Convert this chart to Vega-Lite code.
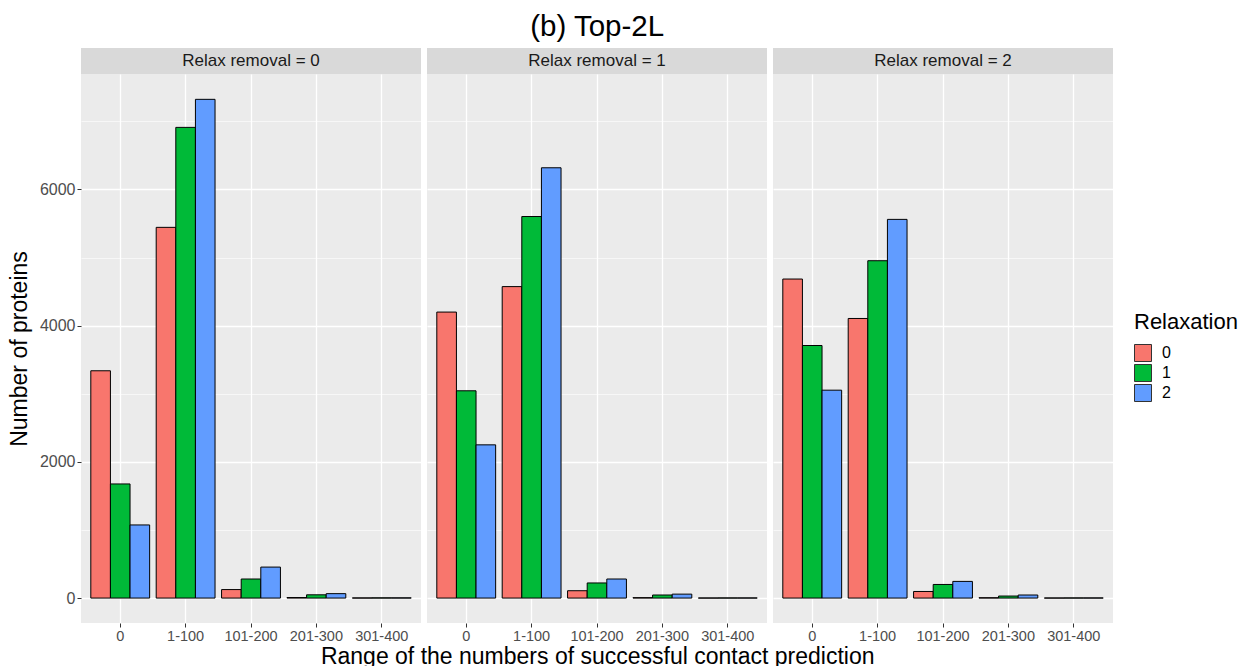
{
  "$schema": "https://vega.github.io/schema/vega-lite/v6.json",
  "padding": {"left": 8, "top": 11, "right": 0, "bottom": 0},
  "background": "white",
  "title": {"text": "(b) Top-2L", "fontSize": 29.5, "fontWeight": "normal", "color": "black", "anchor": "middle", "dx": -26, "offset": 6},
  "datasets": {
    "bars": [
      {"removal": 0, "range": "0", "relaxation": "0", "count": 3338},
      {"removal": 0, "range": "0", "relaxation": "1", "count": 1676},
      {"removal": 0, "range": "0", "relaxation": "2", "count": 1074},
      {"removal": 0, "range": "1-100", "relaxation": "0", "count": 5444},
      {"removal": 0, "range": "1-100", "relaxation": "1", "count": 6912},
      {"removal": 0, "range": "1-100", "relaxation": "2", "count": 7324},
      {"removal": 0, "range": "101-200", "relaxation": "0", "count": 125},
      {"removal": 0, "range": "101-200", "relaxation": "1", "count": 280},
      {"removal": 0, "range": "101-200", "relaxation": "2", "count": 455},
      {"removal": 0, "range": "201-300", "relaxation": "0", "count": 8},
      {"removal": 0, "range": "201-300", "relaxation": "1", "count": 48},
      {"removal": 0, "range": "201-300", "relaxation": "2", "count": 65},
      {"removal": 0, "range": "301-400", "relaxation": "0", "count": 2},
      {"removal": 0, "range": "301-400", "relaxation": "1", "count": 3},
      {"removal": 0, "range": "301-400", "relaxation": "2", "count": 3},
      {"removal": 1, "range": "0", "relaxation": "0", "count": 4200},
      {"removal": 1, "range": "0", "relaxation": "1", "count": 3044},
      {"removal": 1, "range": "0", "relaxation": "2", "count": 2250},
      {"removal": 1, "range": "1-100", "relaxation": "0", "count": 4574},
      {"removal": 1, "range": "1-100", "relaxation": "1", "count": 5603},
      {"removal": 1, "range": "1-100", "relaxation": "2", "count": 6319},
      {"removal": 1, "range": "101-200", "relaxation": "0", "count": 108},
      {"removal": 1, "range": "101-200", "relaxation": "1", "count": 222},
      {"removal": 1, "range": "101-200", "relaxation": "2", "count": 280},
      {"removal": 1, "range": "201-300", "relaxation": "0", "count": 6},
      {"removal": 1, "range": "201-300", "relaxation": "1", "count": 45},
      {"removal": 1, "range": "201-300", "relaxation": "2", "count": 58},
      {"removal": 1, "range": "301-400", "relaxation": "0", "count": 1},
      {"removal": 1, "range": "301-400", "relaxation": "1", "count": 2},
      {"removal": 1, "range": "301-400", "relaxation": "2", "count": 2},
      {"removal": 2, "range": "0", "relaxation": "0", "count": 4685},
      {"removal": 2, "range": "0", "relaxation": "1", "count": 3709},
      {"removal": 2, "range": "0", "relaxation": "2", "count": 3053},
      {"removal": 2, "range": "1-100", "relaxation": "0", "count": 4106},
      {"removal": 2, "range": "1-100", "relaxation": "1", "count": 4954},
      {"removal": 2, "range": "1-100", "relaxation": "2", "count": 5561},
      {"removal": 2, "range": "101-200", "relaxation": "0", "count": 97},
      {"removal": 2, "range": "101-200", "relaxation": "1", "count": 200},
      {"removal": 2, "range": "101-200", "relaxation": "2", "count": 245},
      {"removal": 2, "range": "201-300", "relaxation": "0", "count": 5},
      {"removal": 2, "range": "201-300", "relaxation": "1", "count": 30},
      {"removal": 2, "range": "201-300", "relaxation": "2", "count": 45},
      {"removal": 2, "range": "301-400", "relaxation": "0", "count": 1},
      {"removal": 2, "range": "301-400", "relaxation": "1", "count": 2},
      {"removal": 2, "range": "301-400", "relaxation": "2", "count": 2}
    ]
  },
  "vconcat": [
    {
      "title": {"text": "Range of the numbers of successful contact prediction", "orient": "bottom", "anchor": "middle", "dx": 37, "fontSize": 23, "fontWeight": "normal", "color": "black", "offset": 3},
      "spacing": 6,
      "hconcat": [
        {
          "spacing": 0,
          "vconcat": [
            {
              "width": 340, "height": 26,
              "data": {"values": [{"label": "Relax removal = 0"}]},
              "mark": {"type": "text", "fontSize": 17, "color": "#1A1A1A", "baseline": "middle"},
              "encoding": {"text": {"field": "label", "type": "nominal"}},
              "view": {"fill": "#D9D9D9", "stroke": null}
            },
            {
              "width": 340, "height": 549,
              "data": {"name": "bars"},
              "transform": [{"filter": "datum.removal == 0"}],
              "mark": {"type": "bar", "stroke": "black", "strokeWidth": 1},
              "encoding": {
                "x": {"field": "range", "type": "nominal", "sort": ["0", "1-100", "101-200", "201-300", "301-400"],
                      "scale": {"paddingInner": 0.1, "paddingOuter": 0.15},
                      "axis": {"title": null, "labelAngle": 0, "grid": true, "bandPosition": 0.5}},
                "xOffset": {"field": "relaxation", "type": "nominal", "scale": {"paddingInner": 0, "paddingOuter": 0}},
                "y": {"field": "count", "type": "quantitative", "scale": {"domain": [-366, 7696], "nice": false, "zero": false},
                      "axis": {"title": "Number of proteins", "values": [0, 1000, 2000, 3000, 4000, 5000, 6000, 7000], "format": "d",
                               "labelExpr": "datum.value % 2000 === 0 ? datum.label : ''",
                               "gridWidth": {"condition": {"test": "datum.value % 2000 === 0", "value": 1.3}, "value": 0.6},
                               "tickOpacity": {"condition": {"test": "datum.value % 2000 === 0", "value": 1}, "value": 0}}},
                "y2": {"datum": 0},
                "color": {"field": "relaxation", "type": "nominal", "scale": {"domain": ["0", "1", "2"], "range": ["#F8766D", "#00BA38", "#619CFF"]}, "legend": {"title": "Relaxation"}}
              },
              "view": {"fill": "#EBEBEB", "stroke": null}
            }
          ]
        },
        {
          "spacing": 0,
          "vconcat": [
            {
              "width": 340, "height": 26,
              "data": {"values": [{"label": "Relax removal = 1"}]},
              "mark": {"type": "text", "fontSize": 17, "color": "#1A1A1A", "baseline": "middle"},
              "encoding": {"text": {"field": "label", "type": "nominal"}},
              "view": {"fill": "#D9D9D9", "stroke": null}
            },
            {
              "width": 340, "height": 549,
              "data": {"name": "bars"},
              "transform": [{"filter": "datum.removal == 1"}],
              "mark": {"type": "bar", "stroke": "black", "strokeWidth": 1},
              "encoding": {
                "x": {"field": "range", "type": "nominal", "sort": ["0", "1-100", "101-200", "201-300", "301-400"],
                      "scale": {"paddingInner": 0.1, "paddingOuter": 0.15},
                      "axis": {"title": null, "labelAngle": 0, "grid": true, "bandPosition": 0.5}},
                "xOffset": {"field": "relaxation", "type": "nominal", "scale": {"paddingInner": 0, "paddingOuter": 0}},
                "y": {"field": "count", "type": "quantitative", "scale": {"domain": [-366, 7696], "nice": false, "zero": false},
                      "axis": {"title": null, "labels": false, "ticks": false, "values": [0, 1000, 2000, 3000, 4000, 5000, 6000, 7000],
                               "gridWidth": {"condition": {"test": "datum.value % 2000 === 0", "value": 1.3}, "value": 0.6}}},
                "y2": {"datum": 0},
                "color": {"field": "relaxation", "type": "nominal", "scale": {"domain": ["0", "1", "2"], "range": ["#F8766D", "#00BA38", "#619CFF"]}, "legend": {"title": "Relaxation"}}
              },
              "view": {"fill": "#EBEBEB", "stroke": null}
            }
          ]
        },
        {
          "spacing": 0,
          "vconcat": [
            {
              "width": 340, "height": 26,
              "data": {"values": [{"label": "Relax removal = 2"}]},
              "mark": {"type": "text", "fontSize": 17, "color": "#1A1A1A", "baseline": "middle"},
              "encoding": {"text": {"field": "label", "type": "nominal"}},
              "view": {"fill": "#D9D9D9", "stroke": null}
            },
            {
              "width": 340, "height": 549,
              "data": {"name": "bars"},
              "transform": [{"filter": "datum.removal == 2"}],
              "mark": {"type": "bar", "stroke": "black", "strokeWidth": 1},
              "encoding": {
                "x": {"field": "range", "type": "nominal", "sort": ["0", "1-100", "101-200", "201-300", "301-400"],
                      "scale": {"paddingInner": 0.1, "paddingOuter": 0.15},
                      "axis": {"title": null, "labelAngle": 0, "grid": true, "bandPosition": 0.5}},
                "xOffset": {"field": "relaxation", "type": "nominal", "scale": {"paddingInner": 0, "paddingOuter": 0}},
                "y": {"field": "count", "type": "quantitative", "scale": {"domain": [-366, 7696], "nice": false, "zero": false},
                      "axis": {"title": null, "labels": false, "ticks": false, "values": [0, 1000, 2000, 3000, 4000, 5000, 6000, 7000],
                               "gridWidth": {"condition": {"test": "datum.value % 2000 === 0", "value": 1.3}, "value": 0.6}}},
                "y2": {"datum": 0},
                "color": {"field": "relaxation", "type": "nominal", "scale": {"domain": ["0", "1", "2"], "range": ["#F8766D", "#00BA38", "#619CFF"]}, "legend": {"title": "Relaxation"}}
              },
              "view": {"fill": "#EBEBEB", "stroke": null}
            }
          ]
        }
      ]
    }
  ],
  "config": {
    "font": "Liberation Sans",
    "axis": {
      "domain": false, "gridColor": "white", "gridOpacity": 1, "tickColor": "#333333", "tickSize": 4,
      "labelColor": "#4D4D4D", "titleColor": "black", "titleFontWeight": "normal", "titleFontSize": 23, "labelPadding": 2
    },
    "axisX": {"labelFontSize": 14.5, "titlePadding": 3, "gridWidth": 1.3},
    "axisY": {"labelFontSize": 16, "titlePadding": 8},
    "legend": {
      "titleFontSize": 22, "titleFontWeight": "normal", "titleColor": "black", "labelFontSize": 16, "labelColor": "black",
      "symbolType": "square", "symbolSize": 289, "symbolStrokeColor": "#333333", "symbolStrokeWidth": 1,
      "offset": 21, "titlePadding": 10, "rowPadding": -2, "labelOffset": 10,
      "layout": {"right": {"anchor": "middle"}}
    }
  }
}
